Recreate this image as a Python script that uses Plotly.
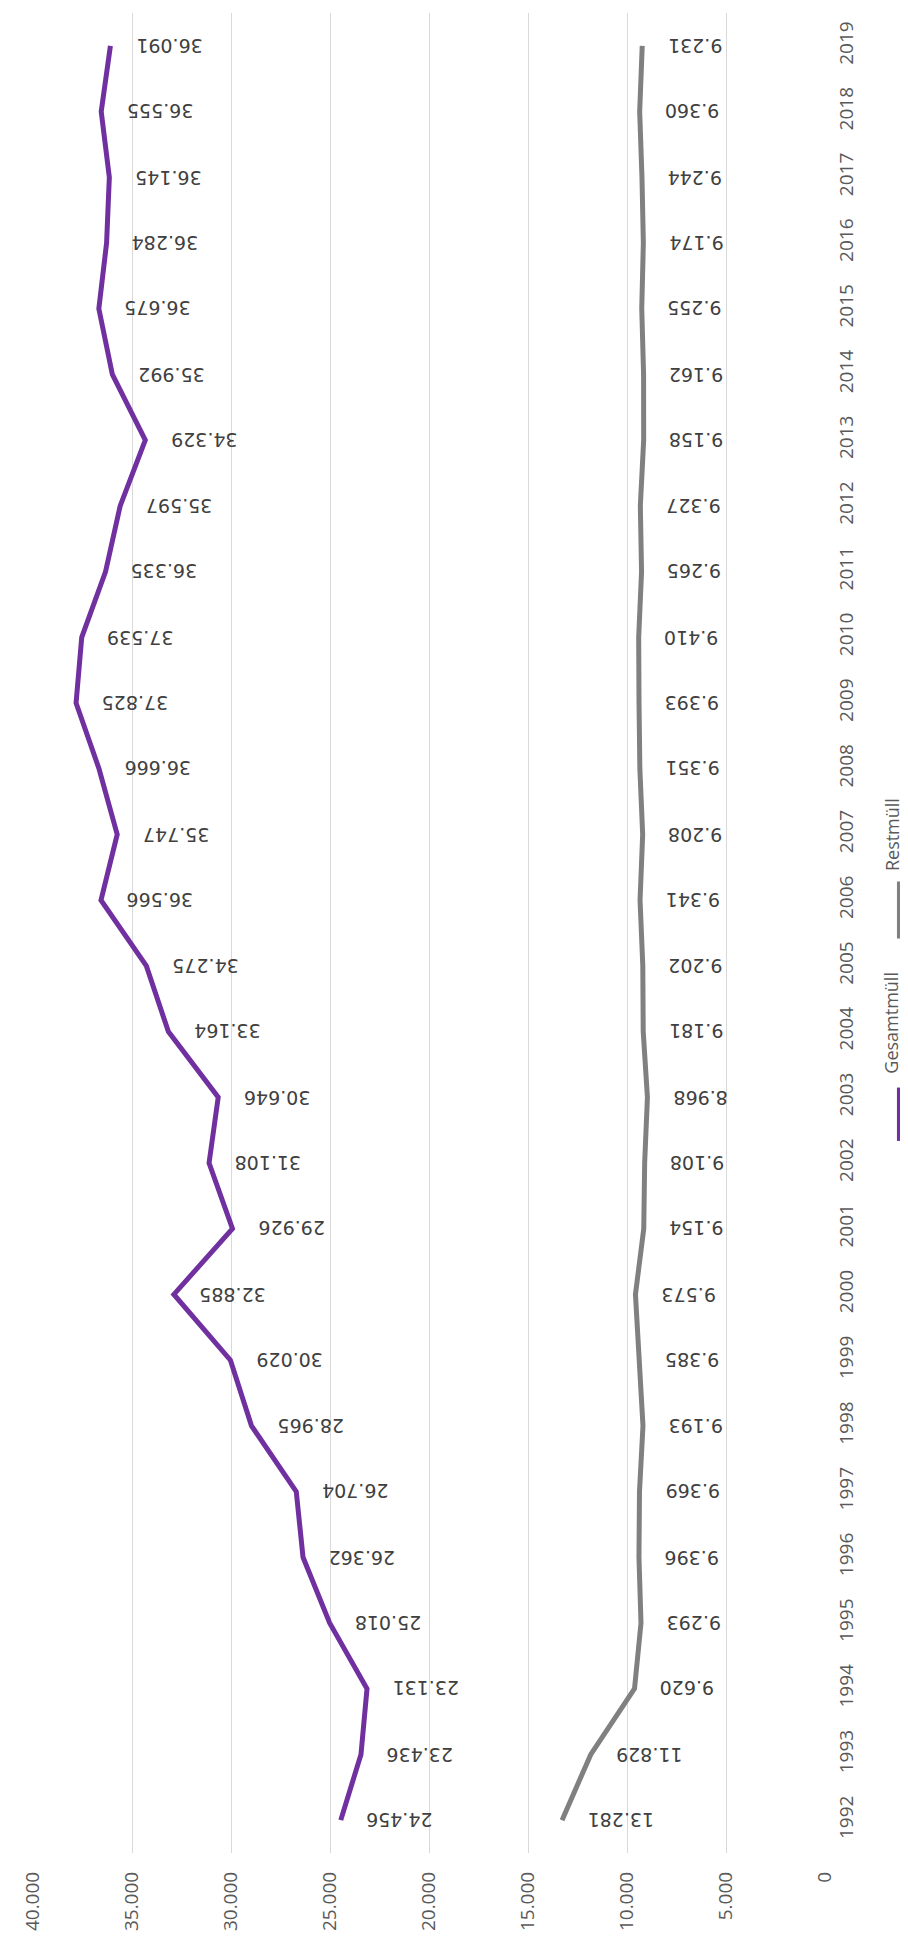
import plotly.graph_objects as go

years = list(range(1992, 2020))
gesamtmuell = [24456, 23436, 23131, 25018, 26362, 26704, 28965, 30029, 32885, 29926,
               31108, 30646, 33164, 34275, 36566, 35747, 36666, 37825, 37539, 36335,
               35597, 34329, 35992, 36675, 36284, 36145, 36555, 36091]
restmuell = [13281, 11829, 9620, 9293, 9396, 9369, 9193, 9385, 9573, 9154,
             9108, 8968, 9181, 9202, 9341, 9208, 9351, 9393, 9410, 9265,
             9327, 9158, 9162, 9255, 9174, 9244, 9360, 9231]
value_ticks = [0, 5000, 10000, 15000, 20000, 25000, 30000, 35000, 40000]

series = [('Gesamtmüll', gesamtmuell, '#7030a0'),
          ('Restmüll', restmuell, '#808080')]


def de(v):
    return f'{v:,}'.replace(',', '.')


traces = []
annotations = []
for name, vals, color in series:
    traces.append(go.Scatter(x=vals, y=years, name=name, mode='lines',
                             line=dict(color=color, width=5)))
    for yr, v in zip(years, vals):
        annotations.append(dict(x=v, y=yr, xref='x', yref='y', text=de(v),
                                showarrow=False, textangle=180,
                                xanchor='left', yanchor='middle', xshift=24,
                                font=dict(family='DejaVu Sans', size=19, color='#404040')))

# rotated legend, drawn by hand at the right edge
legend_items = [('Gesamtmüll', '#7030a0', 0.387, 0.416, 0.451),
                ('Restmüll', '#808080', 0.497, 0.528, 0.5535)]
shapes = []
for name, color, y0, y1, ty in legend_items:
    shapes.append(dict(type='line', xref='paper', yref='paper', x0=1.094, x1=1.094,
                       y0=y0, y1=y1, line=dict(color=color, width=5)))
    annotations.append(dict(x=1.084, y=ty, xref='paper', yref='paper', text=name,
                            showarrow=False, textangle=-90, xanchor='center', yanchor='middle',
                            font=dict(family='Open Sans', size=18, color='#595959')))

layout = go.Layout(
    width=908, height=1944,
    margin=dict(l=25, r=91, t=5, b=99),
    paper_bgcolor='white', plot_bgcolor='white',
    showlegend=False,
    font=dict(family='Open Sans', color='#595959', size=19),
    xaxis=dict(range=[40000, 0], tickvals=value_ticks,
               ticktext=[de(v) for v in value_ticks],
               tickangle=-90, showgrid=True, gridcolor='#d9d9d9', gridwidth=1,
               zeroline=False, showline=False, ticks='', ticklabelstandoff=14),
    yaxis=dict(range=[1991.5, 2019.5], tickvals=years, side='right',
               tickangle=-90, showgrid=False, zeroline=False, showline=False,
               ticks='', ticklabelstandoff=8),
    shapes=shapes,
    annotations=annotations,
)

fig = go.Figure(data=traces, layout=layout)
fig.write_html('out.html')
